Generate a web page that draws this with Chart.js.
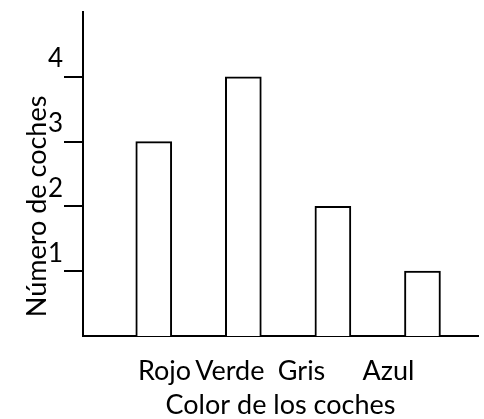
<!DOCTYPE html>
<html lang="es">
<head>
<meta charset="utf-8">
<title>Número de coches por color</title>
<script src="https://cdn.jsdelivr.net/npm/chart.js@4/dist/chart.umd.min.js"></script>
<style>
  html, body { margin: 0; padding: 0; background: #fff; }
  canvas { display: block; }
</style>
</head>
<body>
<canvas id="cars" width="484" height="419"></canvas>
<script>
const categories = ["Rojo", "Verde", "Gris", "Azul"];
const counts = [3, 4, 2, 1];
const yTicks = [1, 2, 3, 4];
const xTitle = "Color de los coches";
const yTitle = "Número de coches";

// where each colour name sits along the x scale (names are not centred under bars)
const labelSlots = [0.12, 0.85, 1.65, 2.62];

const FONT = "Lato";
Chart.defaults.font.family = FONT;
Chart.defaults.color = "#000";

// rotated y caption, centred a bit lower than the axis middle
const yCaption = {
  id: "yCaption",
  afterDraw(chart) {
    const ctx = chart.ctx;
    const y = chart.scales.y.getPixelForValue(2);
    ctx.save();
    ctx.translate(46, y);
    ctx.rotate(-Math.PI / 2);
    ctx.font = `27px ${FONT}`;
    ctx.fillStyle = "#000";
    ctx.textAlign = "center";
    ctx.textBaseline = "alphabetic";
    ctx.fillText(yTitle, 0, 0);
    ctx.restore();
  },
};

new Chart(document.getElementById("cars"), {
  type: "bar",
  data: {
    datasets: [
      {
        data: counts.map((v, i) => ({ x: i, y: v })),
        backgroundColor: "#fff",
        borderColor: "#000",
        borderWidth: 2,
        barThickness: 36,
      },
    ],
  },
  options: {
    responsive: false,
    animation: false,
    layout: { padding: { top: 12, right: 6, left: 0, bottom: 0 } },
    plugins: { legend: { display: false }, tooltip: { enabled: false } },
    scales: {
      x: {
        type: "linear",
        bounds: "data",
        offset: false,
        min: -0.79,
        max: 3.62,
        grid: { display: false },
        border: { display: true, color: "#000", width: 2 },
        afterBuildTicks: s => {
          s.ticks = labelSlots.map(v => ({ value: v }));
        },
        afterFit: s => {
          s.height = 83;
          s.paddingLeft = 0;
          s.paddingRight = 0;
        },
        ticks: {
          autoSkip: false,
          maxRotation: 0,
          padding: 11,
          font: { size: 27 },
          callback: (v, i) => categories[i],
        },
        title: {
          display: true,
          text: xTitle,
          font: { size: 27, lineHeight: 1 },
          padding: { top: 0, bottom: 0 },
        },
      },
      y: {
        min: 0,
        max: 5,
        afterBuildTicks: s => {
          s.ticks = yTicks.map(v => ({ value: v }));
        },
        afterFit: s => {
          s.width = 83;
          s.paddingTop = 0;
          s.paddingBottom = 0;
        },
        grid: {
          drawOnChartArea: false,
          color: "#000",
          lineWidth: 2,
          tickLength: 19,
        },
        border: { display: true, color: "#000", width: 2 },
        ticks: {
          padding: 1,
          labelOffset: -18,
          font: { size: 26 },
        },
      },
    },
  },
  plugins: [yCaption],
});
</script>
</body>
</html>
